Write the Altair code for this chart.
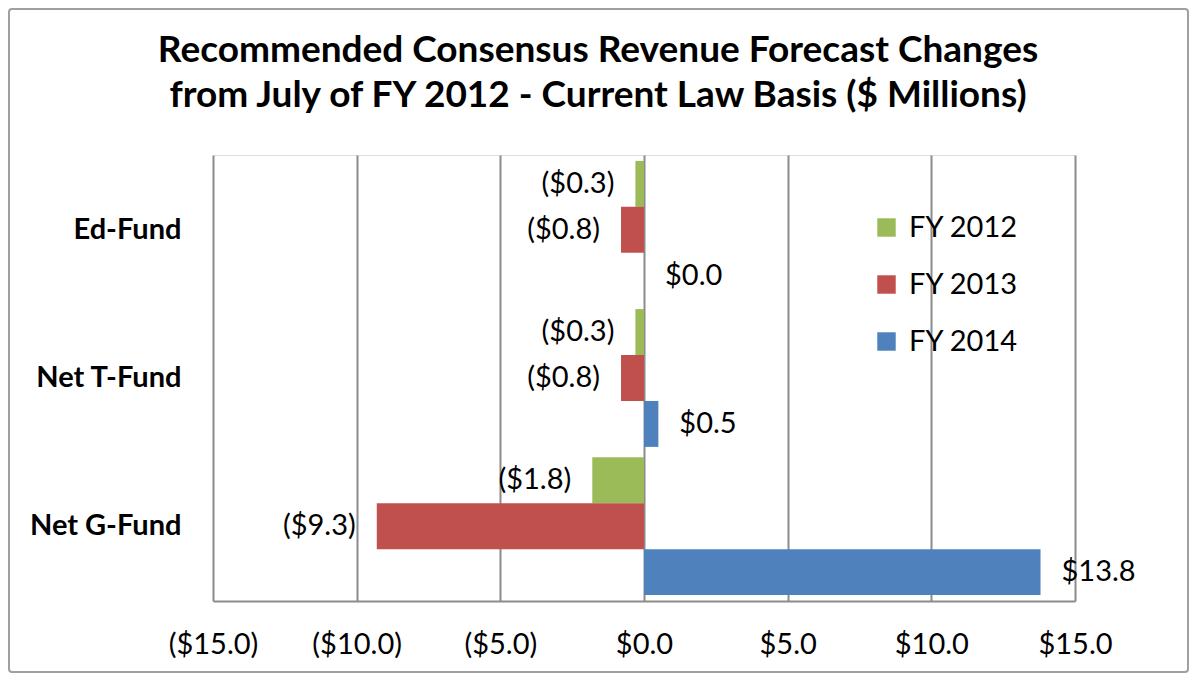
import altair as alt
import pandas as pd

funds = ["Ed-Fund", "Net T-Fund", "Net G-Fund"]
series = ["FY 2012", "FY 2013", "FY 2014"]
fy2012 = [-0.3, -0.3, -1.8]
fy2013 = [-0.8, -0.8, -9.3]
fy2014 = [0.0, 0.5, 13.8]
colors = ["#9BBB59", "#C0504D", "#4F81BD"]
ticks = [-15, -10, -5, 0, 5, 10, 15]

rows = []
for s, vals in zip(series, [fy2012, fy2013, fy2014]):
    for f, v in zip(funds, vals):
        lab = f"(${-v:.1f})" if v < 0 else f"${v:.1f}"
        rows.append({"fund": f, "series": s, "value": v, "label": lab})
df = pd.DataFrame(rows)

FONT = "Lato"
FS = 29
GRAY = "#8c8c8c"

x_enc = alt.X(
    "value:Q",
    scale=alt.Scale(domain=[-15, 15], nice=False, zero=False),
    axis=alt.Axis(
        values=ticks,
        title=None,
        labelExpr="datum.value < 0 ? '($' + format(-datum.value, '.1f') + ')' : '$' + format(datum.value, '.1f')",
        labelFontSize=FS,
        labelFont=FONT,
        labelColor="#000000",
        labelPadding=29,
        labelFlush=False,
        labelOverlap=False,
        ticks=False,
        domain=True,
        domainColor=GRAY,
        domainWidth=2,
        grid=True,
        gridColor=GRAY,
        gridWidth=2,
    ),
)
y_enc = alt.Y(
    "fund:N",
    sort=funds,
    scale=alt.Scale(paddingInner=0.07, paddingOuter=0.04),
    axis=alt.Axis(
        title=None,
        labelFontSize=FS,
        labelFont=FONT,
        labelFontWeight="bold",
        labelColor="#000000",
        labelPadding=32,
        ticks=False,
        domain=False,
        grid=False,
    ),
)
yoff = alt.YOffset("series:N", sort=series, scale=alt.Scale(paddingInner=0, paddingOuter=0))

base = alt.Chart(df)

bars = base.mark_bar().encode(
    x=x_enc,
    y=y_enc,
    yOffset=yoff,
    color=alt.Color(
        "series:N",
        sort=series,
        scale=alt.Scale(domain=series, range=colors),
        legend=alt.Legend(
            title=None,
            orient="none",
            legendX=659,
            legendY=58,
            symbolType="square",
            symbolSize=340,
            symbolStrokeWidth=0,
            labelFontSize=FS,
            labelFont=FONT,
            labelColor="#000000",
            labelOffset=8,
            rowPadding=27,
            padding=0,
        ),
    ),
)

neg = base.transform_filter("datum.value < 0").mark_text(
    align="right", baseline="middle", dx=-21, fontSize=FS, font=FONT, color="#000000"
).encode(x="value:Q", y=alt.Y("fund:N", sort=funds), yOffset=yoff, text="label:N")

pos = base.transform_filter("datum.value >= 0").mark_text(
    align="left", baseline="middle", dx=21, fontSize=FS, font=FONT, color="#000000"
).encode(x="value:Q", y=alt.Y("fund:N", sort=funds), yOffset=yoff, text="label:N")

frame = alt.Chart(pd.DataFrame({"k": [0]})).mark_rect(
    fill=None, stroke="#a0a0a0", strokeWidth=2, cornerRadius=3
).encode(
    x=alt.value(-204), x2=alt.value(975), y=alt.value(-146), y2=alt.value(517)
)

chart = (
    alt.layer(frame, bars, neg, pos)
    .properties(
        width=862,
        height=446,
        title=alt.TitleParams(
            text=[
                "Recommended Consensus Revenue Forecast Changes",
                "from July of FY 2012 - Current Law Basis ($ Millions)",
            ],
            font=FONT,
            fontSize=37,
            fontWeight="bold",
            color="#000000",
            anchor="middle",
            dx=-46,
            offset=-107,
            lineHeight=45,
        ),
        autosize=alt.AutoSizeParams(type="none"),
        padding={"left": 205, "top": 147, "right": 114, "bottom": 72},
    )
    .configure_view(stroke=None)
    .configure(background="#ffffff")
)

chart.save("out.html", embed_options={"renderer": "svg", "actions": False})
